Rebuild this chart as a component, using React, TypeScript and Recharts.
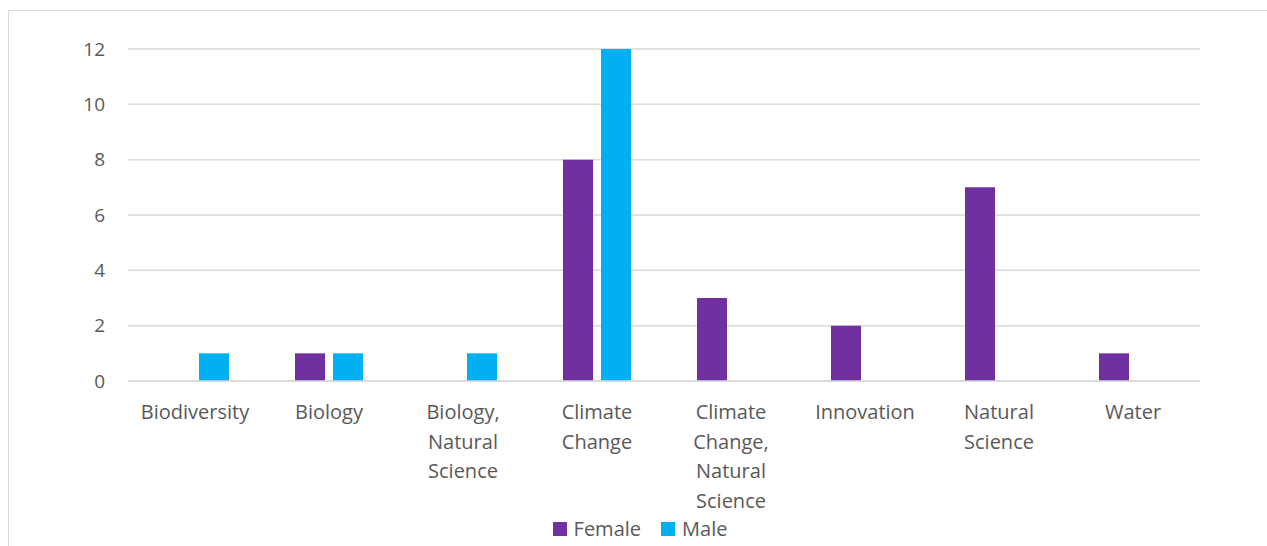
import React from 'react'
import { BarChart, Bar, XAxis, YAxis, CartesianGrid, Legend } from 'recharts'

const categories = [
  'Biodiversity',
  'Biology',
  'Biology, Natural Science',
  'Climate Change',
  'Climate Change, Natural Science',
  'Innovation',
  'Natural Science',
  'Water',
]
const female = [0, 1, 0, 8, 3, 2, 7, 1]
const male = [1, 1, 1, 12, 0, 0, 0, 0]
const yTicks = [0, 2, 4, 6, 8, 10, 12]

const FEMALE = '#7030A0'
const MALE = '#00B0F0'
const TEXT = '#595959'
const GRID = '#d9d9d9'
const FONT = '"Open Sans", sans-serif'

const data = categories.map((c, i) => ({ name: c, Female: female[i], Male: male[i] }))

// each word of the category on its own line, like the original wrap
function CategoryTick(props: any) {
  const { x, y, payload } = props
  const words = String(payload.value).split(' ')
  return (
    <g transform={`translate(${x},${y})`}>
      <text textAnchor="middle" fill={TEXT} fontSize={20} fontFamily={FONT}>
        {words.map((w, i) => (
          <tspan key={i} x={0} y={38 + i * 29.5}>{w}</tspan>
        ))}
      </text>
    </g>
  )
}

function LegendBox() {
  const items = [
    { label: 'Female', color: FEMALE },
    { label: 'Male', color: MALE },
  ]
  return (
    <div style={{ display: 'flex', justifyContent: 'center', alignItems: 'center', height: 35, gap: 20, paddingLeft: 4 }}>
      {items.map(it => (
        <div key={it.label} style={{ display: 'flex', alignItems: 'center', gap: 7 }}>
          <span style={{ width: 14, height: 14, background: it.color, display: 'inline-block' }} />
          <span style={{ color: TEXT, fontSize: 20, fontFamily: FONT }}>{it.label}</span>
        </div>
      ))}
    </div>
  )
}

export default function App() {
  return (
    <div style={{ position: 'absolute', left: 8, top: 10, width: 1259, height: 536, borderTop: `1px solid ${GRID}`, borderLeft: `1px solid ${GRID}`, overflow: 'hidden', background: '#fff' }}>
      <style>{'body{margin:0;overflow:hidden}'}</style>
      <BarChart width={1258} height={535} data={data} barSize={30} barGap={8} margin={{ top: 38, right: 67, left: 0, bottom: 0 }}>
        <CartesianGrid vertical={false} stroke={GRID} strokeWidth={1.5} />
        <XAxis
          dataKey="name"
          interval={0}
          height={130}
          tickLine={false}
          tickSize={0}
          tickMargin={0}
          axisLine={{ stroke: GRID, strokeWidth: 1.5 }}
          tick={<CategoryTick />}
        />
        <YAxis
          width={119}
          domain={[0, 12]}
          ticks={yTicks}
          axisLine={false}
          tickLine={false}
          tickSize={0}
          tickMargin={23}
          tick={{ fill: TEXT, fontSize: 19, fontFamily: FONT }}
        />
        <Legend verticalAlign="bottom" content={<LegendBox />} wrapperStyle={{ left: 0, width: 1258 }} />
        <Bar dataKey="Female" fill={FEMALE} isAnimationActive={false} />
        <Bar dataKey="Male" fill={MALE} isAnimationActive={false} />
      </BarChart>
    </div>
  )
}
